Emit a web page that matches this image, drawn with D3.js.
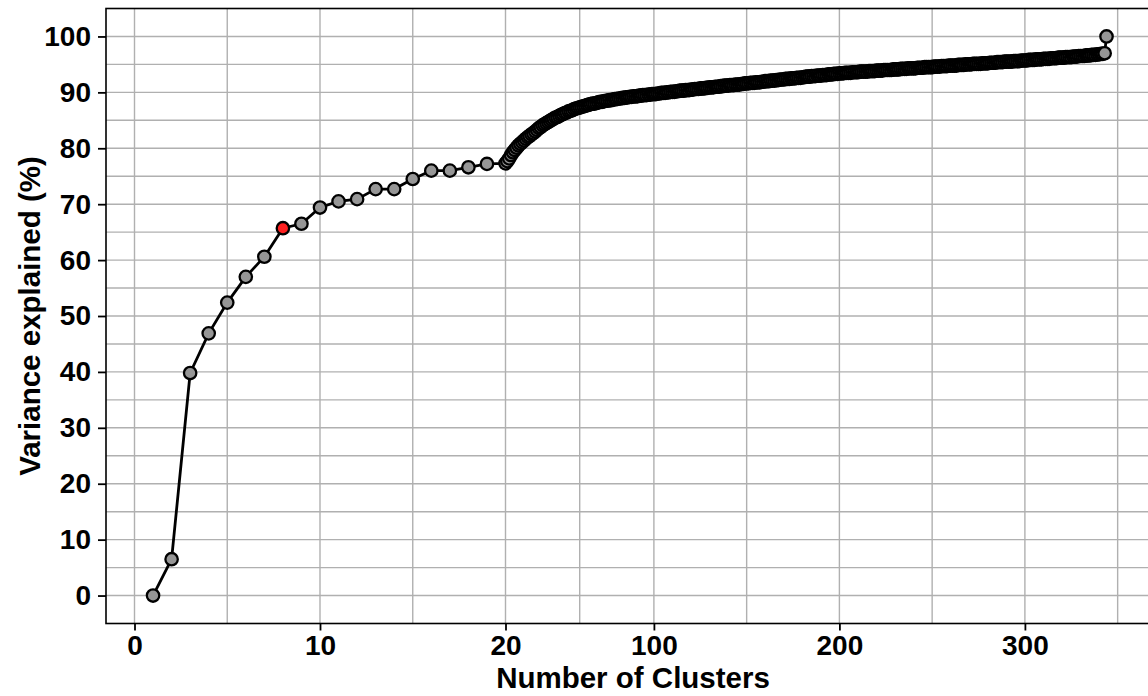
<!DOCTYPE html>
<html>
<head>
<meta charset="utf-8">
<script src="https://cdn.jsdelivr.net/npm/d3@7"></script>
<style>
  html, body { margin: 0; padding: 0; background: #fff; }
  svg { display: block; }
  text { font-family: "Liberation Sans", Arial, sans-serif; font-weight: bold; fill: #000; }
</style>
</head>
<body>
<svg id="chart" width="1148" height="696"></svg>
<script>
// ---- data ----
const highlightCluster = 8;
const xTickValues = [0, 10, 20, 100, 200, 300];
const xGridValues = [0, 5, 10, 15, 20, 60, 100, 150, 200, 250, 300, 350];
const yTickValues = [0, 10, 20, 30, 40, 50, 60, 70, 80, 90, 100];
const yGridValues = [0, 5, 10, 15, 20, 25, 30, 35, 40, 45, 50, 55, 60, 65, 70, 75, 80, 85, 90, 95, 100];
const xTitle = "Number of Clusters";
const yTitle = "Variance explained (%)";

// variance explained (%) for 1..344 clusters
const variance = [
  0.0, 6.5, 39.8, 46.9, 52.4, 57.0, 60.6, 65.7, 66.5, 69.4,
  70.5, 70.9, 72.7, 72.7, 74.5, 76.0, 76.0, 76.6, 77.2, 77.3,
  77.7, 78.2, 78.8, 79.3, 79.7, 80.1, 80.5, 80.8, 81.1, 81.4,
  81.7, 82.0, 82.2, 82.5, 82.7, 83.0, 83.3, 83.6, 83.8, 84.1,
  84.3, 84.5, 84.7, 84.9, 85.1, 85.3, 85.5, 85.6, 85.8, 86.0,
  86.1, 86.3, 86.4, 86.6, 86.7, 86.8, 87.0, 87.1, 87.2, 87.3,
  87.4, 87.5, 87.6, 87.7, 87.8, 87.9, 88.0, 88.0, 88.1, 88.2,
  88.3, 88.3, 88.4, 88.5, 88.5, 88.6, 88.6, 88.7, 88.8, 88.8,
  88.9, 88.9, 89.0, 89.0, 89.1, 89.1, 89.2, 89.2, 89.3, 89.3,
  89.3, 89.4, 89.4, 89.5, 89.5, 89.5, 89.6, 89.6, 89.7, 89.7,
  89.7, 89.8, 89.8, 89.9, 89.9, 89.9, 90.0, 90.0, 90.1, 90.1,
  90.1, 90.2, 90.2, 90.3, 90.3, 90.3, 90.4, 90.4, 90.4, 90.5,
  90.5, 90.6, 90.6, 90.6, 90.7, 90.7, 90.7, 90.8, 90.8, 90.9,
  90.9, 90.9, 91.0, 91.0, 91.0, 91.1, 91.1, 91.2, 91.2, 91.2,
  91.3, 91.3, 91.3, 91.4, 91.4, 91.4, 91.5, 91.5, 91.6, 91.6,
  91.6, 91.7, 91.7, 91.7, 91.8, 91.8, 91.8, 91.9, 91.9, 92.0,
  92.0, 92.0, 92.1, 92.1, 92.1, 92.2, 92.2, 92.3, 92.3, 92.3,
  92.4, 92.4, 92.4, 92.5, 92.5, 92.5, 92.6, 92.6, 92.6, 92.7,
  92.7, 92.8, 92.8, 92.8, 92.9, 92.9, 92.9, 93.0, 93.0, 93.0,
  93.1, 93.1, 93.1, 93.2, 93.2, 93.2, 93.3, 93.3, 93.3, 93.4,
  93.4, 93.4, 93.5, 93.5, 93.5, 93.5, 93.6, 93.6, 93.6, 93.6,
  93.7, 93.7, 93.7, 93.7, 93.7, 93.8, 93.8, 93.8, 93.8, 93.9,
  93.9, 93.9, 93.9, 94.0, 94.0, 94.0, 94.0, 94.0, 94.1, 94.1,
  94.1, 94.1, 94.2, 94.2, 94.2, 94.2, 94.3, 94.3, 94.3, 94.3,
  94.3, 94.4, 94.4, 94.4, 94.4, 94.5, 94.5, 94.5, 94.5, 94.5,
  94.6, 94.6, 94.6, 94.6, 94.7, 94.7, 94.7, 94.7, 94.8, 94.8,
  94.8, 94.8, 94.8, 94.9, 94.9, 94.9, 94.9, 95.0, 95.0, 95.0,
  95.0, 95.1, 95.1, 95.1, 95.1, 95.1, 95.2, 95.2, 95.2, 95.2,
  95.3, 95.3, 95.3, 95.3, 95.4, 95.4, 95.4, 95.4, 95.5, 95.5,
  95.5, 95.5, 95.5, 95.6, 95.6, 95.6, 95.6, 95.7, 95.7, 95.7,
  95.7, 95.8, 95.8, 95.8, 95.8, 95.9, 95.9, 95.9, 95.9, 96.0,
  96.0, 96.0, 96.0, 96.1, 96.1, 96.1, 96.1, 96.2, 96.2, 96.2,
  96.2, 96.3, 96.3, 96.3, 96.3, 96.4, 96.4, 96.4, 96.5, 96.5,
  96.5, 96.5, 96.6, 96.6, 96.6, 96.7, 96.7, 96.7, 96.8, 96.8,
  96.9, 96.9, 97.0, 100.0
];
const clusters = d3.range(1, variance.length + 1);

// ---- layout ----
const svg = d3.select("#chart");
const panel = { left: 106, top: 8.5, right: 1160, bottom: 623.5 };

// piecewise x scale: 0-20 expanded, beyond 20 compressed 10x
const x = d3.scaleLinear()
  .domain([0, 20, 345])
  .range([134.5, 505.5, 505.5 + 325 * 1.855]);
const y = d3.scaleLinear()
  .domain([-5, 105])
  .range([panel.bottom, panel.top]);

// background
svg.append("rect").attr("x", 0).attr("y", 0).attr("width", 1148).attr("height", 696).attr("fill", "#fff");

// grid
const grid = svg.append("g").attr("stroke", "#b0b0b0").attr("stroke-width", 1.4);
grid.selectAll("line.h").data(yGridValues).join("line")
  .attr("x1", panel.left).attr("x2", panel.right)
  .attr("y1", d => y(d)).attr("y2", d => y(d));
grid.selectAll("line.v").data(xGridValues).join("line")
  .attr("y1", panel.top).attr("y2", panel.bottom)
  .attr("x1", d => x(d)).attr("x2", d => x(d));

// panel border
svg.append("rect")
  .attr("x", panel.left).attr("y", panel.top)
  .attr("width", panel.right - panel.left).attr("height", panel.bottom - panel.top)
  .attr("fill", "none").attr("stroke", "#000").attr("stroke-width", 1.6);

// axes
const xAxis = d3.axisBottom(x).tickValues(xTickValues).tickSize(7).tickPadding(5).tickFormat(d3.format("d"));
const gx = svg.append("g").attr("transform", `translate(0,${panel.bottom})`).call(xAxis);
gx.select(".domain").remove();
gx.selectAll(".tick line").attr("stroke", "#000").attr("stroke-width", 1.8);
gx.selectAll(".tick text").attr("font-size", 28).attr("font-family", "Liberation Sans, Arial, sans-serif").attr("font-weight", "bold").attr("fill", "#000");

const yAxis = d3.axisLeft(y).tickValues(yTickValues).tickSize(8).tickPadding(7).tickFormat(d3.format("d"));
const gy = svg.append("g").attr("transform", `translate(${panel.left},0)`).call(yAxis);
gy.select(".domain").remove();
gy.selectAll(".tick line").attr("stroke", "#000").attr("stroke-width", 1.8);
gy.selectAll(".tick text").attr("font-size", 28).attr("font-family", "Liberation Sans, Arial, sans-serif").attr("font-weight", "bold").attr("fill", "#000");

// titles
svg.append("text")
  .attr("x", 633).attr("y", 688)
  .attr("text-anchor", "middle").attr("font-size", 29.5)
  .text(xTitle);
svg.append("text")
  .attr("transform", `translate(40,${(panel.top + panel.bottom) / 2}) rotate(-90)`)
  .attr("text-anchor", "middle").attr("font-size", 29.5)
  .text(yTitle);

// line + points
const pts = clusters.map((c, i) => ({ c, v: variance[i] }));
svg.append("path")
  .datum(pts)
  .attr("fill", "none").attr("stroke", "#000").attr("stroke-width", 2.8)
  .attr("d", d3.line().x(d => x(d.c)).y(d => y(d.v)));

svg.append("g").selectAll("circle").data(pts).join("circle")
  .attr("cx", d => x(d.c)).attr("cy", d => y(d.v)).attr("r", 6.2)
  .attr("fill", d => d.c === highlightCluster ? "#ff2020" : "#969696")
  .attr("stroke", "#000").attr("stroke-width", 2.3);
</script>
</body>
</html>
